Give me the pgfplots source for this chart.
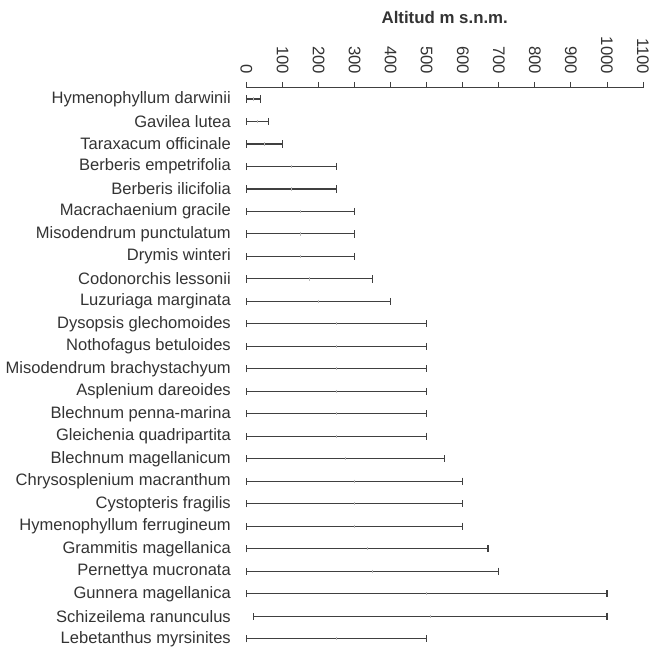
\documentclass[border=0pt]{standalone}
\usepackage{pgfplots}
\pgfplotsset{compat=1.18}
\usepackage{pgfplotstable}
\usepackage{fontspec}
\setmainfont{Liberation Sans}
\definecolor{txt}{HTML}{333333}
\definecolor{bar}{HTML}{404040}
\pgfplotstableread{
i lo hi
0 0 40
1 0 60
2 0 100
3 0 250
4 0 250
5 0 300
6 0 300
7 0 300
8 0 350
9 0 400
10 0 500
11 0 500
12 0 500
13 0 500
14 0 500
15 0 500
16 0 550
17 0 600
18 0 600
19 0 600
20 0 670
21 0 700
22 0 1000
23 20 1000
24 0 500
}\ranges
\begin{document}
\begin{tikzpicture}
\useasboundingbox (-246.5bp,-1bp) rectangle (417.5bp,650bp);
\begin{axis}[
  at={(0,0)}, anchor=south west,
  scale only axis,
  width=396.5bp, height=562.25bp,
  xmin=0, xmax=1100,
  ymin=-0.5, ymax=24.5,
  y dir=reverse,
  axis x line*=top,
  axis y line*=left,
  y axis line style={draw=none},
  x axis line style={draw=bar, line width=0.9bp},
  xtick={0,100,...,1100},
  tick align=outside,
  major tick length=6bp,
  xtick style={draw=bar, line width=0.9bp},
  xticklabel shift={7.5bp},
  xticklabel style={rotate=-90, anchor=east, inner sep=0pt, font=\fontsize{16.8}{17}\selectfont, text=txt},
  /pgf/number format/assume math mode=true,
  /pgf/number format/1000 sep={},
  ytick={0,...,24},
  ytick style={draw=none},
  yticklabels={Hymenophyllum darwinii,Gavilea lutea,Taraxacum officinale,Berberis empetrifolia,Berberis ilicifolia,Macrachaenium gracile,Misodendrum punctulatum,Drymis winteri,Codonorchis lessonii,Luzuriaga marginata,Dysopsis glechomoides,Nothofagus betuloides,Misodendrum brachystachyum,Asplenium dareoides,Blechnum penna-marina,Gleichenia quadripartita,Blechnum magellanicum,Chrysosplenium macranthum,Cystopteris fragilis,Hymenophyllum ferrugineum,Grammitis magellanica,Pernettya mucronata,Gunnera magellanica,Schizeilema ranunculus,Lebetanthus myrsinites},
  yticklabel style={anchor=east, inner sep=0pt, xshift=-9.5bp, font=\fontsize{16.6}{18}\selectfont, text=txt},
  title={Altitud m s.n.m.},
  title style={at={(0.5,1)}, anchor=base, yshift=58.5bp, font=\bfseries\fontsize{16.9}{18}\selectfont, text=txt, inner sep=0pt},
  clip=false,
]
\addplot[only marks, mark=|, mark size=1.6bp, mark options={draw=gray!55, line width=0.6bp},
  error bars/.cd, x dir=both, x explicit,
  error bar style={draw=bar, line width=1.1bp},
  error mark=|, error mark options={draw=bar, mark size=3.6bp, line width=1.1bp}]
  table[x expr={(\thisrow{lo}+\thisrow{hi})/2}, y=i, x error expr={(\thisrow{hi}-\thisrow{lo})/2}] {\ranges};
\end{axis}
\end{tikzpicture}
\end{document}
